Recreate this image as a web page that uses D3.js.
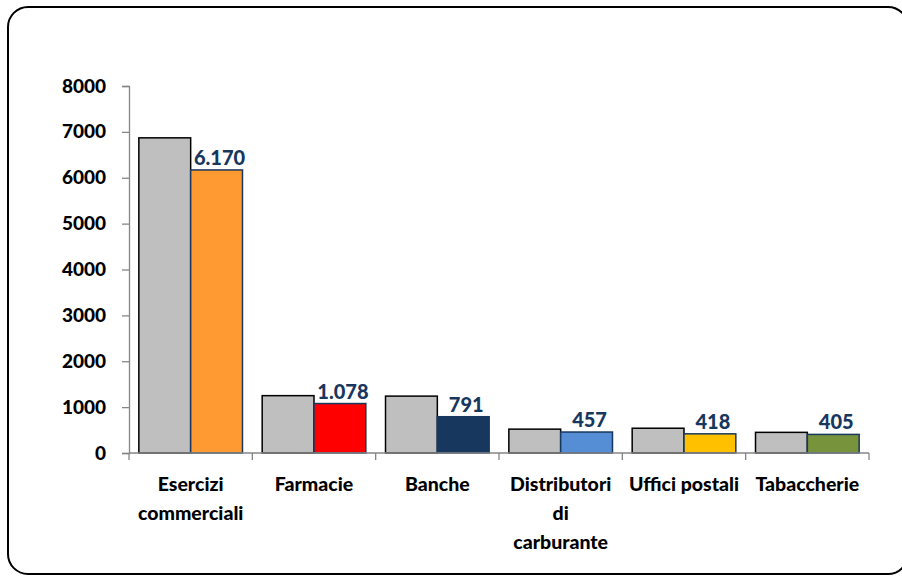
<!DOCTYPE html>
<html>
<head>
<meta charset="utf-8">
<script src="https://cdn.jsdelivr.net/npm/d3@7"></script>
<style>
  body { margin: 0; background: #fff; }
  svg { display: block; }
</style>
</head>
<body>
<div id="chart"></div>
<script>
const categories = ['Esercizi commerciali', 'Farmacie', 'Banche', 'Distributori di carburante', 'Uffici postali', 'Tabaccherie'];
const labelLines = [['Esercizi', 'commerciali'], ['Farmacie'], ['Banche'], ['Distributori', 'di', 'carburante'], ['Uffici postali'], ['Tabaccherie']];
const previous = [6870, 1250, 1240, 520, 540, 450];
const current = [6170, 1078, 791, 457, 418, 405];
const currentLabels = ['6.170', '1.078', '791', '457', '418', '405'];
const barColors = ['#FF9A33', '#FF0000', '#17375E', '#558ED5', '#FFC000', '#77933C'];
const yTicks = [0, 1000, 2000, 3000, 4000, 5000, 6000, 7000, 8000];

const width = 902;
const height = 576;
const font = 'Lato, "Open Sans", sans-serif';

const svg = d3.select('#chart')
	.append('svg')
	.attr('width', width)
	.attr('height', height);

// rounded frame
svg.append('rect')
	.attr('x', 8)
	.attr('y', 7)
	.attr('width', 900)
	.attr('height', 567)
	.attr('rx', 20)
	.attr('fill', 'white')
	.attr('stroke', 'black')
	.attr('stroke-width', 2);

const x = d3.scaleBand()
	.domain(categories)
	.range([129, 869])
	.paddingInner(0)
	.paddingOuter(0);

const inner = d3.scaleBand()
	.domain(['prev', 'cur'])
	.range([0, x.bandwidth()])
	.paddingOuter(0.19)
	.paddingInner(0);

const y = d3.scaleLinear()
	.domain([0, 8000])
	.range([453, 86]);

// y axis
const yAxis = svg.append('g')
	.attr('transform', 'translate(129,0)')
	.call(d3.axisLeft(y).tickValues(yTicks).tickSize(7).tickPadding(16).tickFormat(d3.format('d')));
yAxis.select('.domain').attr('stroke', '#868686').attr('stroke-width', 1.3);
yAxis.selectAll('.tick line').attr('stroke', '#868686').attr('stroke-width', 1.3);
yAxis.selectAll('.tick text')
	.attr('fill', 'black')
	.style('font-family', font)
	.style('font-weight', '900')
	.style('font-size', '19px');

// bars
const groups = svg.selectAll('g.group')
	.data(categories)
	.enter()
	.append('g')
	.attr('class', 'group')
	.attr('transform', d => 'translate(' + x(d) + ',0)');

groups.append('rect')
	.attr('x', inner('prev'))
	.attr('y', (d, i) => y(previous[i]))
	.attr('width', inner.bandwidth())
	.attr('height', (d, i) => y(0) - y(previous[i]))
	.attr('fill', '#BFBFBF')
	.attr('stroke', 'black')
	.attr('stroke-width', 1.5);

groups.append('rect')
	.attr('x', inner('cur'))
	.attr('y', (d, i) => y(current[i]))
	.attr('width', inner.bandwidth())
	.attr('height', (d, i) => y(0) - y(current[i]))
	.attr('fill', (d, i) => barColors[i])
	.attr('stroke', '#17375E')
	.attr('stroke-width', 1.5);

groups.append('text')
	.attr('x', inner('cur') + inner.bandwidth() / 2 + 3)
	.attr('y', (d, i) => y(current[i]) - 5)
	.attr('text-anchor', 'middle')
	.attr('fill', '#17375E')
	.style('font-family', font)
	.style('font-weight', '900')
	.style('font-size', '20px')
	.text((d, i) => currentLabels[i]);

// x axis
const xAxis = svg.append('g')
	.attr('transform', 'translate(0,453)');
xAxis.append('line')
	.attr('x1', 129).attr('x2', 869)
	.attr('stroke', '#868686').attr('stroke-width', 1.3);
xAxis.selectAll('line.tick')
	.data(categories.concat(['end']))
	.enter()
	.append('line')
	.attr('class', 'tick')
	.attr('x1', (d, i) => i < categories.length ? x(d) : x.range()[1])
	.attr('x2', (d, i) => i < categories.length ? x(d) : x.range()[1])
	.attr('y1', 0).attr('y2', 7)
	.attr('stroke', '#868686').attr('stroke-width', 1.3);

groups.append('text')
	.attr('text-anchor', 'middle')
	.attr('fill', 'black')
	.style('font-family', font)
	.style('font-weight', '900')
	.style('font-size', '19.5px')
	.selectAll('tspan')
	.data((d, i) => labelLines[i])
	.enter()
	.append('tspan')
	.attr('x', x.bandwidth() / 2)
	.attr('y', (d, i) => 491 + i * 29)
	.text(d => d);
</script>
</body>
</html>
